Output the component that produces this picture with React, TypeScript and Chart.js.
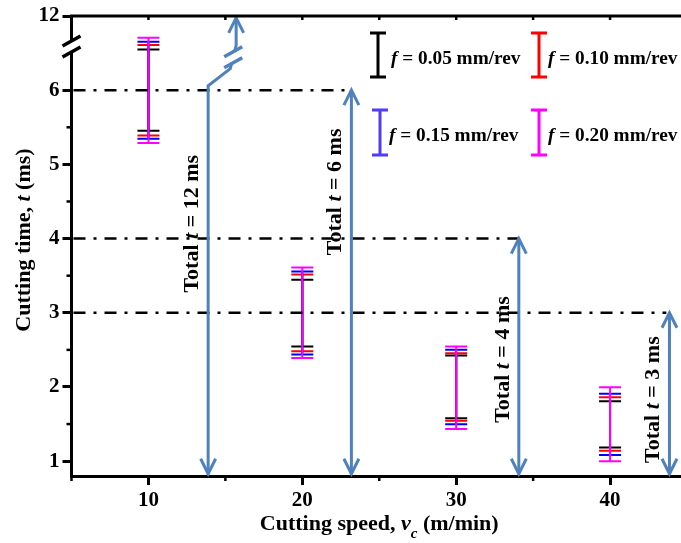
import React, { useEffect, useRef } from 'react';
import { Chart, registerables } from 'chart.js';

Chart.register(...registerables);

const FONT = "'Liberation Serif', 'Times New Roman', Times, serif";

// Cutting speed, v_c (m/min)
const cuttingSpeeds = [10, 20, 30, 40];
// Feed rates f (mm/rev)
const feedLabels = ['0.05', '0.10', '0.15', '0.20'];
const feedColors = ['#000000', '#FF0000', '#0000FF', '#FF00FF'];
const legendColors = ['#000000', '#FF0000', '#4F3BFF', '#FF00FF'];

// Cutting-time range of every error bar (axis units; above 6 the axis is broken up to 12)
const lowF005 = [5.455, 2.545, 1.579, 1.185];
const highF005 = [6.55, 3.445, 2.424, 1.807];
const lowF010 = [5.388, 2.483, 1.543, 1.142];
const highF010 = [6.608, 3.517, 2.456, 1.862];
const lowF015 = [5.347, 2.437, 1.498, 1.084];
const highF015 = [6.654, 3.557, 2.5, 1.907];
const lowF020 = [5.289, 2.389, 1.435, 1.0];
const highF020 = [6.708, 3.611, 2.545, 1.997];

// Axes
const xTickValues = [10, 20, 30, 40];
const xMinorValues = [5, 15, 25, 35, 45];
const yTickValues = [1, 2, 3, 4, 5, 6, 7];
const yTickLabels = ['1', '2', '3', '4', '5', '6', '12'];
const yMinorValues = [1.5, 2.5, 3.5, 4.5, 5.5];

// "Total t" annotations
const totalLabels = ['12', '6', '4', '3'];
const totalArrowX = [13.88, 23.19, 34.07, 43.86];
const totalArrowTop = [6.975, 6, 4, 3];
const totalLabelY = [4.2, 4.63, 2.37, 1.83];
const arrowBottom = 0.83;
// bent part of the 12 ms arrow
const bendX = [13.88, 15.32, 15.7];
const bendY = [6.06, 6.29, 6.6];
// dash-dot reference levels
const refLevels = [6, 4, 3];
const refEndX = [23.19, 34.07, 43.66];

const lows = [lowF005, lowF010, lowF015, lowF020];
const highs = [highF005, highF010, highF015, highF020];

type Part = { t: string; it?: boolean; size?: number; dy?: number };

function drawRich(ctx: CanvasRenderingContext2D, parts: Part[], x: number, y: number, rot: number, base: number) {
  ctx.save();
  ctx.translate(x, y);
  ctx.rotate(rot);
  ctx.textBaseline = 'alphabetic';
  ctx.textAlign = 'left';
  ctx.fillStyle = '#000';
  const fontOf = (p: Part) => `${p.it ? 'italic ' : ''}bold ${p.size || base}px ${FONT}`;
  const widths = parts.map((p) => {
    ctx.font = fontOf(p);
    return ctx.measureText(p.t).width;
  });
  const total = widths.reduce((a, b) => a + b, 0);
  let cx = -total / 2;
  parts.forEach((p, i) => {
    ctx.font = fontOf(p);
    ctx.fillText(p.t, cx, p.dy || 0);
    cx += widths[i];
  });
  ctx.restore();
}

function drawRichLeft(ctx: CanvasRenderingContext2D, parts: Part[], x: number, y: number, base: number) {
  ctx.save();
  ctx.textBaseline = 'alphabetic';
  ctx.textAlign = 'left';
  ctx.fillStyle = '#000';
  let cx = x;
  parts.forEach((p) => {
    ctx.font = `${p.it ? 'italic ' : ''}bold ${p.size || base}px ${FONT}`;
    ctx.fillText(p.t, cx, y + (p.dy || 0));
    cx += ctx.measureText(p.t).width;
  });
  ctx.restore();
}

function head(ctx: CanvasRenderingContext2D, x: number, y: number, dir: number) {
  // dir = -1: tip pointing up, +1: tip pointing down
  ctx.beginPath();
  ctx.moveTo(x - 7.5, y - dir * 15);
  ctx.lineTo(x, y);
  ctx.lineTo(x + 7.5, y - dir * 15);
  ctx.stroke();
}

function breakMark(ctx: CanvasRenderingContext2D, cx: number, cy: number, color: string) {
  ctx.save();
  ctx.fillStyle = '#fff';
  ctx.fillRect(cx - 5, cy - 5, 10, 10);
  ctx.strokeStyle = color;
  ctx.lineWidth = 3.5;
  ctx.lineCap = 'butt';
  [-5.5, 5.5].forEach((o) => {
    ctx.beginPath();
    ctx.moveTo(cx - 9, cy + o + 5);
    ctx.lineTo(cx + 9, cy + o - 5);
    ctx.stroke();
  });
  ctx.restore();
}

const decorPlugin = {
  id: 'decor',
  afterDatasetsDraw(chart: any) {
    const ctx: CanvasRenderingContext2D = chart.ctx;
    const xs = chart.scales.x;
    const ys = chart.scales.y;
    const X = (v: number) => xs.getPixelForValue(v);
    const Y = (v: number) => ys.getPixelForValue(v);

    // dash-dot reference lines
    ctx.save();
    ctx.strokeStyle = '#000';
    ctx.lineWidth = 2.5;
    ctx.setLineDash([12, 8, 3, 8]);
    refLevels.forEach((lv, i) => {
      ctx.beginPath();
      ctx.moveTo(X(5) + 2, Y(lv));
      ctx.lineTo(X(refEndX[i]), Y(lv));
      ctx.stroke();
    });
    ctx.restore();

    // arrows
    ctx.save();
    ctx.strokeStyle = '#4F81BD';
    ctx.lineWidth = 3;
    ctx.lineJoin = 'miter';
    totalArrowX.forEach((ax, i) => {
      const x = X(ax);
      if (i === 0) {
        ctx.beginPath();
        ctx.moveTo(x, Y(arrowBottom));
        bendX.forEach((bx, j) => ctx.lineTo(X(bx), Y(bendY[j])));
        ctx.lineTo(X(bendX[2]), Y(totalArrowTop[0]));
        ctx.stroke();
        head(ctx, x, Y(arrowBottom), 1);
        head(ctx, X(bendX[2]), Y(totalArrowTop[0]), -1);
        const mx = (X(bendX[1]) + X(bendX[2])) / 2;
        const my = (Y(bendY[1]) + Y(bendY[2])) / 2;
        breakMark(ctx, mx, my, '#4F81BD');
      } else {
        ctx.beginPath();
        ctx.moveTo(x, Y(arrowBottom));
        ctx.lineTo(x, Y(totalArrowTop[i]));
        ctx.stroke();
        head(ctx, x, Y(arrowBottom), 1);
        head(ctx, x, Y(totalArrowTop[i]), -1);
      }
    });
    ctx.restore();

    // rotated annotation texts
    totalLabels.forEach((lab, i) => {
      drawRich(
        ctx,
        [{ t: 'Total ' }, { t: 't', it: true }, { t: ` = ${lab} ms` }],
        X(totalArrowX[i]) - 10,
        Y(totalLabelY[i]),
        -Math.PI / 2,
        22
      );
    });
  },
  afterDraw(chart: any) {
    const ctx: CanvasRenderingContext2D = chart.ctx;
    const xs = chart.scales.x;
    const ys = chart.scales.y;
    const area = chart.chartArea;
    const X = (v: number) => xs.getPixelForValue(v);
    const Y = (v: number) => ys.getPixelForValue(v);

    ctx.save();
    ctx.strokeStyle = '#000';
    // top frame
    ctx.lineWidth = 3;
    ctx.beginPath();
    ctx.moveTo(area.left - 1.5, area.top);
    ctx.lineTo(area.right, area.top);
    ctx.stroke();
    // right frame
    ctx.beginPath();
    ctx.moveTo(area.right, area.top);
    ctx.lineTo(area.right, area.bottom);
    ctx.stroke();
    // minor ticks
    ctx.lineWidth = 2.5;
    yMinorValues.forEach((v) => {
      ctx.beginPath();
      ctx.moveTo(area.left, Y(v));
      ctx.lineTo(area.left - 5, Y(v));
      ctx.stroke();
    });
    xMinorValues.forEach((v) => {
      ctx.beginPath();
      ctx.moveTo(X(v), area.bottom);
      ctx.lineTo(X(v), area.bottom + 5);
      ctx.stroke();
    });
    // top axis inward ticks
    [...xTickValues, ...xMinorValues].forEach((v) => {
      ctx.beginPath();
      ctx.moveTo(X(v), area.top);
      ctx.lineTo(X(v), area.top + 4);
      ctx.stroke();
    });
    ctx.restore();

    // axis break on the y axis
    breakMark(ctx, area.left, 46.5, '#000');

    // legend
    const legendPos = [
      { bx: 378, y0: 33, y1: 77, tx: 391, ty: 64 },
      { bx: 539, y0: 33, y1: 77, tx: 548, ty: 64 },
      { bx: 380, y0: 110, y1: 155, tx: 389, ty: 141 },
      { bx: 539, y0: 110, y1: 155, tx: 548, ty: 141 },
    ];
    feedLabels.forEach((lab, i) => {
      const p = legendPos[i];
      ctx.save();
      ctx.strokeStyle = legendColors[i];
      ctx.lineWidth = 3;
      ctx.beginPath();
      ctx.moveTo(p.bx, p.y0);
      ctx.lineTo(p.bx, p.y1);
      ctx.moveTo(p.bx - 8, p.y0);
      ctx.lineTo(p.bx + 8, p.y0);
      ctx.moveTo(p.bx - 8, p.y1);
      ctx.lineTo(p.bx + 8, p.y1);
      ctx.stroke();
      ctx.restore();
      drawRichLeft(ctx, [{ t: 'f', it: true }, { t: ` = ${lab} mm/rev` }], p.tx, p.ty, 19.3);
    });

    // axis titles
    drawRich(
      ctx,
      [{ t: 'Cutting speed, ' }, { t: 'v', it: true }, { t: 'c', it: true, size: 15, dy: 8 }, { t: ' (m/min)' }],
      (area.left + area.right) / 2,
      530,
      0,
      22
    );
    drawRich(ctx, [{ t: 'Cutting time, ' }, { t: 't', it: true }, { t: ' (ms)' }], 30, 240, -Math.PI / 2, 22);
  },
};

export default function App() {
  const ref = useRef<HTMLCanvasElement>(null);
  useEffect(() => {
    const datasets: any[] = [];
    [3, 2, 1, 0].forEach((s) => {
      datasets.push({
        type: 'line',
        label: `stem ${feedLabels[s]}`,
        data: cuttingSpeeds.flatMap((x, i) => [
          { x, y: lows[s][i] },
          { x, y: highs[s][i] },
          { x, y: null },
        ]),
        borderColor: feedColors[s],
        borderWidth: 2,
        pointRadius: 0,
        spanGaps: false,
        tension: 0,
        fill: false,
      });
      datasets.push({
        type: 'scatter',
        label: `f = ${feedLabels[s]} mm/rev`,
        data: cuttingSpeeds.flatMap((x, i) => [
          { x, y: lows[s][i] },
          { x, y: highs[s][i] },
        ]),
        pointStyle: 'line',
        pointRadius: 11,
        pointBorderColor: feedColors[s],
        pointBorderWidth: 2,
        borderColor: feedColors[s],
        backgroundColor: feedColors[s],
        showLine: false,
      });
    });

    const tickFont = { family: FONT, size: 21, weight: 'bold' as const };
    const chart = new Chart(ref.current as HTMLCanvasElement, {
      type: 'scatter',
      data: { datasets },
      options: {
        animation: false,
        responsive: false,
        devicePixelRatio: 1,
        events: [],
        layout: { padding: { top: 16, right: 10, bottom: 0, left: 0 } },
        plugins: { legend: { display: false }, tooltip: { enabled: false }, title: { display: false } },
        scales: {
          x: {
            type: 'linear',
            min: 5,
            max: 45,
            offset: false,
            afterBuildTicks: (s: any) => {
              s.ticks = xTickValues.map((v) => ({ value: v }));
            },
            afterFit: (s: any) => {
              s.height = 67;
            },
            grid: { display: true, drawOnChartArea: false, drawTicks: true, tickLength: 9, tickWidth: 3, tickColor: '#000' },
            border: { display: true, color: '#000', width: 3 },
            ticks: { font: tickFont, color: '#000', padding: 3, maxRotation: 0, autoSkip: false },
          },
          y: {
            type: 'linear',
            min: 0.8,
            max: 7,
            afterBuildTicks: (s: any) => {
              s.ticks = yTickValues.map((v) => ({ value: v }));
            },
            afterFit: (s: any) => {
              s.width = 71.5;
            },
            grid: { display: true, drawOnChartArea: false, drawTicks: true, tickLength: 9, tickWidth: 3, tickColor: '#000' },
            border: { display: true, color: '#000', width: 3 },
            ticks: {
              font: tickFont,
              color: '#000',
              padding: 3,
              autoSkip: false,
              callback: (_v: any, i: number) => yTickLabels[i],
            },
          },
        },
      } as any,
      plugins: [decorPlugin],
    });
    return () => chart.destroy();
  }, []);

  return (
    <div style={{ position: 'fixed', left: 0, top: 0, width: 681, height: 543, overflow: 'hidden', background: '#fff' }}>
      <canvas ref={ref} width={700} height={543} style={{ display: 'block', width: 700, height: 543 }} />
    </div>
  );
}
